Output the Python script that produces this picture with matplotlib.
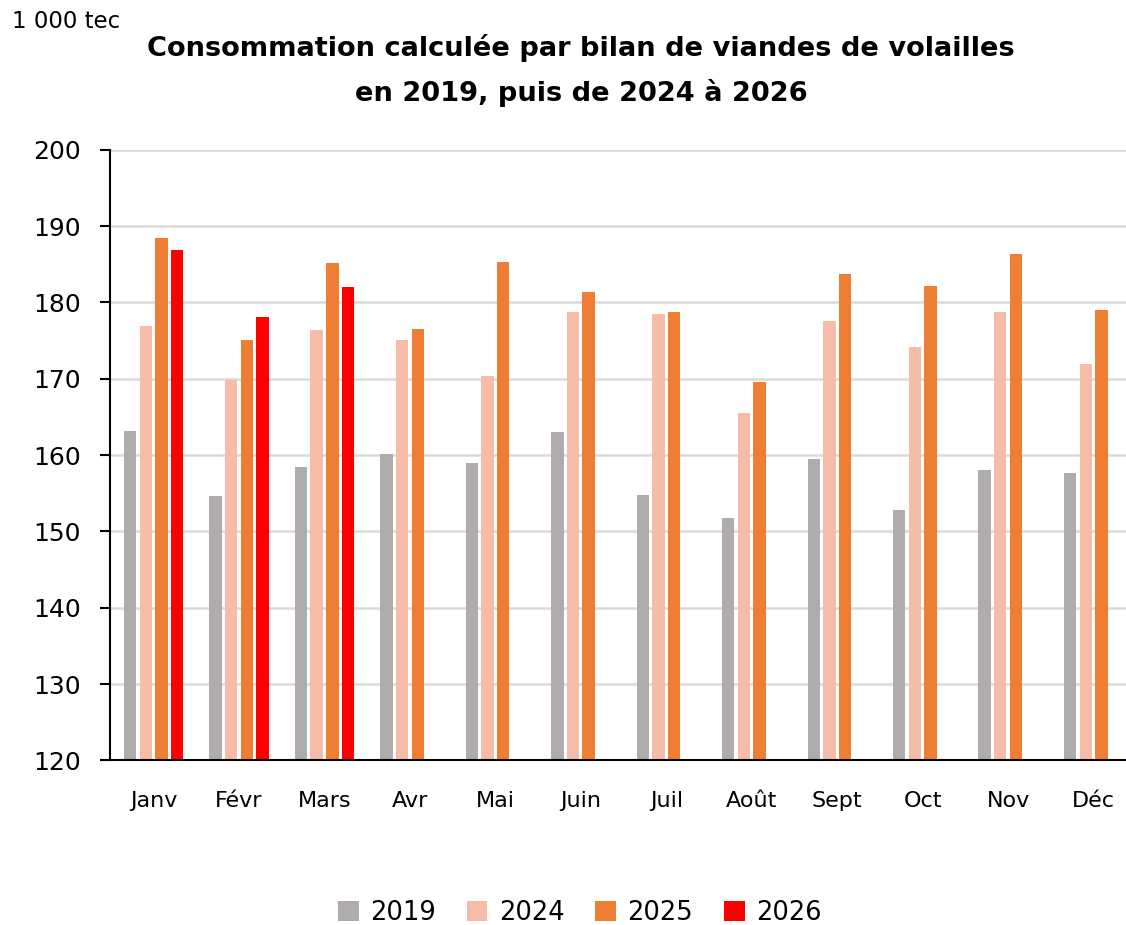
import matplotlib
matplotlib.use("Agg")
import matplotlib.pyplot as plt
import numpy as np
from matplotlib.patches import Patch

months = ["Janv", "Févr", "Mars", "Avr", "Mai", "Juin", "Juil", "Août", "Sept", "Oct", "Nov", "Déc"]
v2019 = [163.2, 154.7, 158.5, 160.2, 158.9, 163.0, 154.8, 151.7, 159.5, 152.8, 158.1, 157.6]
v2024 = [176.9, 169.9, 176.4, 175.1, 170.4, 178.8, 178.5, 165.5, 177.6, 174.1, 178.7, 172.0]
v2025 = [188.4, 175.1, 185.2, 176.5, 185.3, 181.4, 178.8, 169.6, 183.7, 182.2, 186.4, 179.0]
v2026 = [186.9, 178.1, 182.0]
series_names = ["2019", "2024", "2025", "2026"]
colors = ["#b0acab", "#f7bca8", "#ee7e33", "#ff0000"]

plt.rcParams['font.family'] = ['DejaVu Sans']

fig = plt.figure(figsize=(11.26, 9.25), dpi=100)
ax = fig.add_axes([0.0977, 0.178, 0.9023, 0.66])

x = np.arange(len(months))
step = 0.183
width = 0.145
data = [v2019, v2024, v2025, v2026]
for i, (vals, c) in enumerate(zip(data, colors)):
    xs = x[:len(vals)] + (i - 1.5) * step
    ax.bar(xs, np.array(vals) - 120, bottom=120, width=width, color=c,
           edgecolor="none", linewidth=0, zorder=3)

ax.set_ylim(120, 200)
ax.set_xlim(-0.51, 11.38)
ax.set_yticks(np.arange(120, 201, 10))
ax.set_xticks(x)
ax.set_xticklabels(months, fontsize=16)
ax.tick_params(axis='x', length=0, pad=22)
ax.tick_params(axis='y', labelsize=18, length=7.2, width=1.5, pad=14, direction='out')
ax.yaxis.grid(True, color="#dadada", linewidth=1.8, zorder=0)
ax.set_axisbelow(True)
for s in ["top", "right"]:
    ax.spines[s].set_visible(False)
ax.spines["left"].set_linewidth(1.5)
ax.spines["bottom"].set_linewidth(1.5)
ax.spines["left"].set_zorder(4)
ax.spines["bottom"].set_zorder(4)

fig.text(0.516, 0.924, "Consommation calculée par bilan de viandes de volailles\nen 2019, puis de 2024 à 2026",
         ha="center", va="center", fontsize=19.6, fontweight="bold", linespacing=1.8)
fig.text(0.011, 0.977, "1 000 tec", ha="left", va="center", fontsize=16.5)

handles = [Patch(facecolor=c, edgecolor="none") for c in colors]
fig.legend(handles, series_names, loc="center", bbox_to_anchor=(0.515, 0.013),
           ncol=4, frameon=False, fontsize=18.5, handlelength=0.8, handleheight=0.8,
           handletextpad=0.45, columnspacing=1.2)

fig.savefig("out.png", dpi=100)
